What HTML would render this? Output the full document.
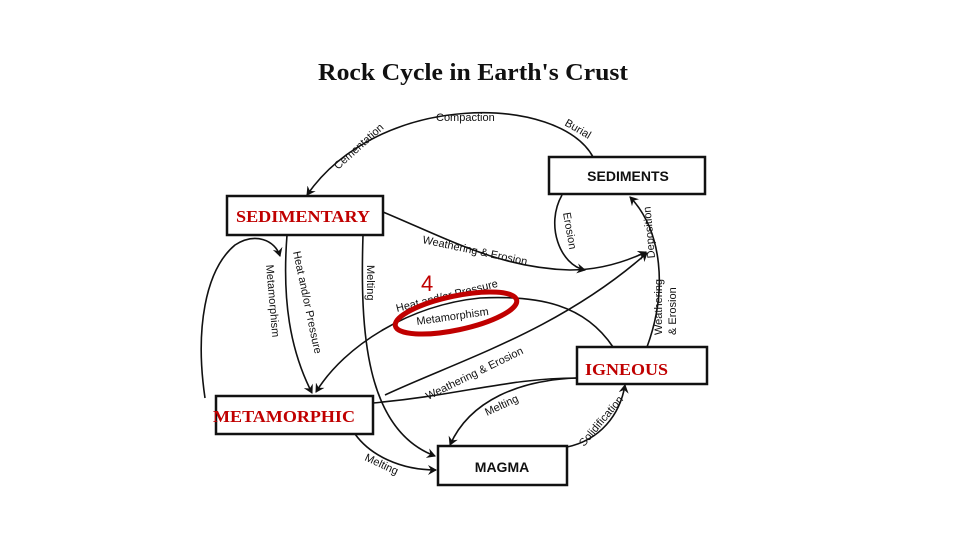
<!DOCTYPE html>
<html><head><meta charset="utf-8"><style>
body{margin:0;background:#fff;}
svg{display:block}
.l{font-family:"Liberation Sans",sans-serif;font-size:11px;fill:#111}
.b{font-family:"Liberation Sans",sans-serif;font-weight:bold;font-size:14px;fill:#111}
.r{font-family:"Liberation Serif",serif;font-size:17px;font-weight:bold;fill:#c00000}
</style></head><body>
<svg width="960" height="540" viewBox="0 0 960 540">
<defs><marker id="a" markerWidth="10" markerHeight="10" refX="8" refY="5" orient="auto" markerUnits="userSpaceOnUse"><path d="M0,0 L9,5 L0,10 L3,5z" fill="#111"/></marker></defs>
<text x="473" y="80" text-anchor="middle" font-family="Liberation Serif,serif" font-weight="bold" font-size="24" fill="#111" textLength="310" lengthAdjust="spacingAndGlyphs">Rock Cycle in Earth's Crust</text>
<g fill="none" stroke="#111" stroke-width="1.6" marker-end="url(#a)">
<path d="M593,157 C560,95 380,90 307,195"/>
<path d="M562,195 C545,225 560,265 585,270"/>
<path d="M647,347 C668,290 662,230 630,197"/>
<path d="M383,212 C450,240 500,268 570,270 C600,270 625,262 646,252"/>
<path d="M287,235 C282,300 290,350 312,393"/>
<path d="M205,398 C195,330 205,270 235,245 C255,232 275,240 280,256"/>
<path d="M363,235 C360,330 365,430 435,456"/>
<path d="M613,347 C585,305 540,295 480,298 C410,305 345,345 316,392"/>
<path d="M385,395 C460,360 560,330 647,253"/>
<path d="M577,378 C520,380 470,400 450,445"/>
<path d="M567,447 C600,440 620,415 625,385"/>
<path d="M355,434 C370,455 400,470 436,470"/>
</g>
<path d="M373,403 C460,395 510,378 577,378" fill="none" stroke="#111" stroke-width="1.6"/>
<g fill="#fff" stroke="#111" stroke-width="2.5">
<rect x="549" y="157" width="156" height="37"/>
<rect x="227" y="196" width="156" height="39"/>
<rect x="577" y="347" width="130" height="37"/>
<rect x="216" y="396" width="157" height="38"/>
<rect x="438" y="446" width="129" height="39"/>
</g>
<text x="628" y="181" text-anchor="middle" class="b">SEDIMENTS</text>
<text x="502" y="472" text-anchor="middle" class="b">MAGMA</text>
<text x="236" y="222" class="r" textLength="134" lengthAdjust="spacingAndGlyphs">SEDIMENTARY</text>
<text x="585" y="375" class="r" textLength="83" lengthAdjust="spacingAndGlyphs">IGNEOUS</text>
<text x="213" y="422" class="r" textLength="142" lengthAdjust="spacingAndGlyphs">METAMORPHIC</text>
<text class="l" transform="translate(338,170) rotate(-42)">Cementation</text>
<text class="l" x="436" y="121">Compaction</text>
<text class="l" transform="translate(564,125) rotate(30)">Burial</text>
<text class="l" transform="translate(563,213) rotate(80)">Erosion</text>
<text class="l" transform="translate(655,258) rotate(-95)">Deposition</text>
<text class="l" transform="translate(662,335) rotate(-90)">Weathering</text>
<text class="l" transform="translate(676,335) rotate(-90)">&amp; Erosion</text>
<text class="l" transform="translate(422,243) rotate(12)">Weathering &amp; Erosion</text>
<text class="l" transform="translate(293,252) rotate(78)">Heat and/or Pressure</text>
<text class="l" transform="translate(266,265) rotate(85)">Metamorphism</text>
<text class="l" transform="translate(367,265) rotate(90)">Melting</text>
<text class="l" transform="translate(397,312) rotate(-14)">Heat and/or Pressure</text>
<text class="l" transform="translate(417,325) rotate(-8)">Metamorphism</text>
<text class="l" transform="translate(428,400) rotate(-26)">Weathering &amp; Erosion</text>
<text class="l" transform="translate(487,416) rotate(-25)">Melting</text>
<text class="l" transform="translate(584,447) rotate(-50)">Solidification</text>
<text class="l" transform="translate(364,460) rotate(25)">Melting</text>
<ellipse cx="456" cy="313" rx="62" ry="17" transform="rotate(-12 456 313)" fill="none" stroke="#c00000" stroke-width="5"/>
<text x="421" y="291" font-family="Liberation Sans,sans-serif" font-size="22" fill="#c00000">4</text>
</svg>
</body></html>
